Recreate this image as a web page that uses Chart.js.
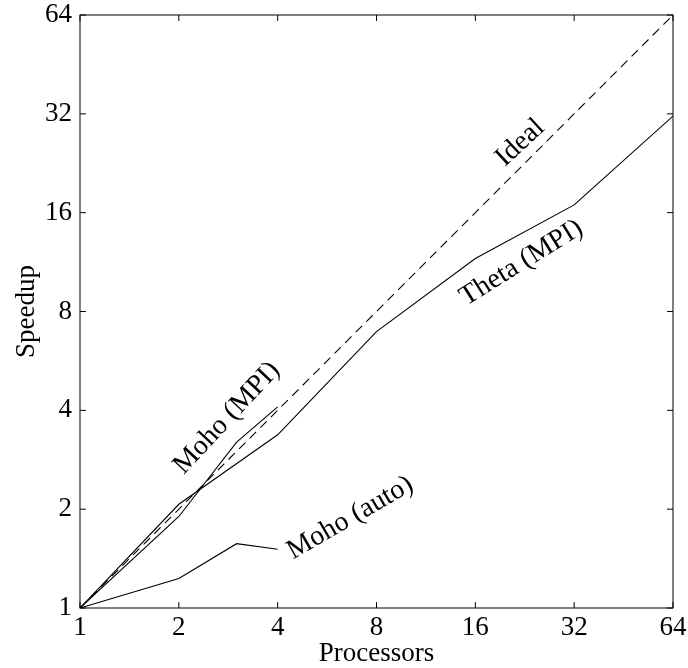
<!DOCTYPE html>
<html>
<head>
<meta charset="utf-8">
<script src="https://cdn.jsdelivr.net/npm/chart.js@4.4.1/dist/chart.umd.min.js"></script>
<style>
  html, body { margin: 0; padding: 0; background: #fff; }
  #speedupChart { display: block; }
</style>
</head>
<body>
<canvas id="speedupChart" width="688" height="668"></canvas>
<script>
// Dữ liệu
const processors = [1, 2, 4, 8, 16, 32, 64];
const thetaSpeedup = [1, 2.07, 3.37, 6.95, 11.6, 16.9, 31.5];
const mohoProcessors = [1, 2, 3, 4];
const mohoMpiSpeedup = [1, 1.9, 3.2, 4.1];
const mohoAutoSpeedup = [1, 1.23, 1.57, 1.51];
const idealProcessors = [1, 64];
const idealSpeedup = [1, 64];
const tickValues = [1, 2, 4, 8, 16, 32, 64];
const tickLabels = ['1', '2', '4', '8', '16', '32', '64'];

const FONT = "'Liberation Serif', 'DejaVu Serif', serif";
const FONT_SIZE = 27;

// Nhãn viết nghiêng cạnh các đường (toạ độ theo dữ liệu)
const curveLabels = [
    { text: 'Ideal', x: 21.9, y: 26.1, angle: -43 },
    { text: 'Theta (MPI)', x: 22.1, y: 11.25, angle: -32 },
    { text: 'Moho (MPI)', x: 2.8, y: 3.79, angle: -47 },
    { text: 'Moho (auto)', x: 6.65, y: 1.88, angle: -30 },
];

function toPoints(xs, ys) {
    return xs.map((x, i) => ({ x: x, y: ys[i] }));
}

function lineSet(label, xs, ys, dash) {
    return {
        label: label,
        data: toPoints(xs, ys),
        showLine: true,
        borderColor: '#000',
        borderWidth: 1.1,
        borderDash: dash || [],
        pointRadius: 0,
        fill: false,
        tension: 0,
    };
}

// Khung và vạch chia hướng vào trong
const framePlugin = {
    id: 'frame',
    afterDraw(chart) {
        const { ctx, chartArea: a, scales } = chart;
        ctx.save();
        ctx.strokeStyle = '#000';
        ctx.lineWidth = 1;
        ctx.strokeRect(a.left, a.top, a.right - a.left, a.bottom - a.top);
        const len = 6;
        ctx.beginPath();
        tickValues.forEach(v => {
            const px = scales.x.getPixelForValue(v);
            const py = scales.y.getPixelForValue(v);
            ctx.moveTo(px, a.bottom); ctx.lineTo(px, a.bottom - len);
            ctx.moveTo(px, a.top); ctx.lineTo(px, a.top + len);
            ctx.moveTo(a.left, py); ctx.lineTo(a.left + len, py);
            ctx.moveTo(a.right, py); ctx.lineTo(a.right - len, py);
        });
        ctx.stroke();

        ctx.fillStyle = '#000';
        ctx.font = (FONT_SIZE + 1) + 'px ' + FONT;
        ctx.textAlign = 'center';
        ctx.textBaseline = 'middle';
        curveLabels.forEach(l => {
            ctx.save();
            ctx.translate(scales.x.getPixelForValue(l.x), scales.y.getPixelForValue(l.y));
            ctx.rotate(l.angle * Math.PI / 180);
            ctx.fillText(l.text, 0, 0);
            ctx.restore();
        });
        ctx.restore();
    }
};

function logAxis(title, size, tickPad, titlePad) {
    return {
        type: 'logarithmic',
        min: 1,
        max: 64,
        grid: { display: false, drawTicks: false },
        border: { display: false },
        afterBuildTicks(scale) {
            scale.ticks = tickValues.map(v => ({ value: v }));
        },
        afterFit(scale) {
            // cố định kích thước trục, bỏ phần đệm do nhãn đầu/cuối
            if (scale.isHorizontal()) {
                scale.height = size;
                scale.paddingLeft = 0;
                scale.paddingRight = 0;
            } else {
                scale.width = size;
                scale.paddingTop = 0;
                scale.paddingBottom = 0;
            }
        },
        ticks: {
            autoSkip: false,
            maxRotation: 0,
            color: '#000',
            font: { family: FONT, size: FONT_SIZE },
            padding: tickPad,
            callback: (value) => {
                const i = tickValues.indexOf(value);
                return i >= 0 ? tickLabels[i] : '';
            },
        },
        title: {
            display: true,
            text: title,
            color: '#000',
            font: { family: FONT, size: FONT_SIZE },
            padding: titlePad,
        },
    };
}

document.addEventListener('DOMContentLoaded', () => {
    new Chart(document.getElementById('speedupChart'), {
        type: 'scatter',
        data: {
            datasets: [
                lineSet('Ideal', idealProcessors, idealSpeedup, [9, 6]),
                lineSet('Theta (MPI)', processors, thetaSpeedup),
                lineSet('Moho (MPI)', mohoProcessors, mohoMpiSpeedup),
                lineSet('Moho (auto)', mohoProcessors, mohoAutoSpeedup),
            ],
        },
        options: {
            responsive: false,
            animation: false,
            devicePixelRatio: 1,
            layout: { padding: { top: 15, right: 15, left: 0, bottom: 0 } },
            plugins: { legend: { display: false }, tooltip: { enabled: false } },
            scales: {
                x: logAxis('Processors', 60, 4, { top: 0, bottom: -2 }),
                y: logAxis('Speedup', 80, 8, { top: 11, bottom: 0 }),
            },
        },
        plugins: [framePlugin],
    });
});
</script>
</body>
</html>
